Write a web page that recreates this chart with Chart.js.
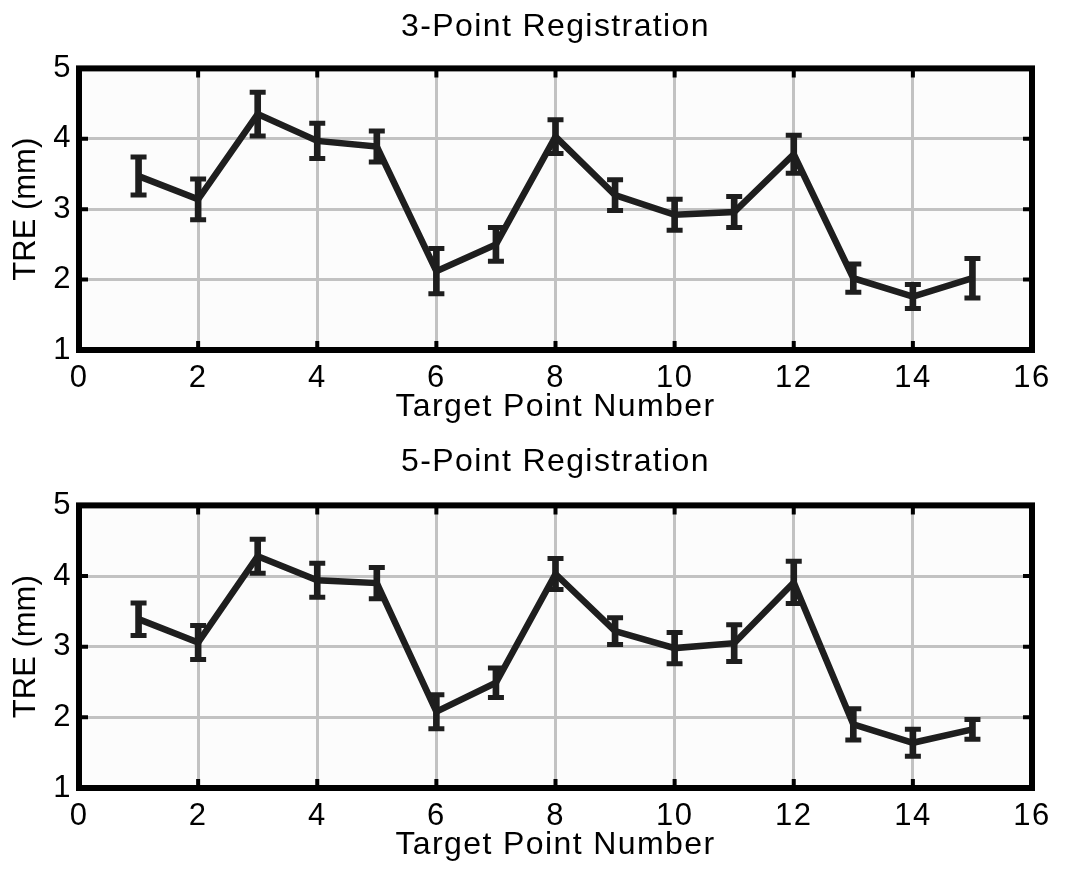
<!DOCTYPE html>
<html>
<head>
<meta charset="utf-8">
<script src="https://cdn.jsdelivr.net/npm/chart.js@4/dist/chart.umd.min.js"></script>
<style>
  html, body { margin: 0; padding: 0; background: #fff; }
  .panel { position: absolute; left: 0; width: 1065px; height: 440px; }
  #top { top: 0; }
  #bottom { top: 440px; }
</style>
</head>
<body>
<div class="panel" id="top"><canvas id="chart3" width="1065" height="440"></canvas></div>
<div class="panel" id="bottom"><canvas id="chart5" width="1065" height="440"></canvas></div>
<script>
// target points on the x axis
const targetPoints = [1, 2, 3, 4, 5, 6, 7, 8, 9, 10, 11, 12, 13, 14, 15];

// 3-point registration: mean TRE and error (mm)
const tre3 = [3.47, 3.14, 4.35, 3.97, 3.89, 2.12, 2.50, 4.03, 3.20, 2.92, 2.96, 3.78, 2.02, 1.76, 2.02];
const err3 = [0.27, 0.29, 0.31, 0.25, 0.22, 0.32, 0.24, 0.24, 0.22, 0.22, 0.22, 0.27, 0.20, 0.17, 0.28];

// 5-point registration
const tre5 = [3.39, 3.06, 4.28, 3.94, 3.90, 2.08, 2.49, 4.03, 3.22, 2.98, 3.05, 3.91, 1.90, 1.64, 1.83];
const err5 = [0.23, 0.24, 0.24, 0.24, 0.22, 0.24, 0.21, 0.22, 0.19, 0.22, 0.26, 0.30, 0.22, 0.19, 0.14];

// tick labels
const xTickValues = [0, 2, 4, 6, 8, 10, 12, 14, 16];
const yTickValues = [1, 2, 3, 4, 5];

const ink = '#1e1e1e';
const fontFamily = '"Liberation Sans", Arial, Helvetica, sans-serif';

// plot frame with inward tick marks, like the matlab box
const framePlugin = {
    id: 'frame',
    beforeDraw(chart) {
        const { ctx, chartArea: a } = chart;
        ctx.save();
        ctx.fillStyle = '#fcfcfc';
        ctx.fillRect(a.left, a.top, a.width, a.height);
        ctx.restore();
        // the original lettering is a bit wider than Liberation Sans
        ctx.letterSpacing = '1.4px';
    },
    afterDraw(chart) {
        const { ctx, chartArea: a, scales: { x, y } } = chart;
        ctx.save();
        ctx.strokeStyle = '#000';
        ctx.lineWidth = 6;
        ctx.strokeRect(a.left, a.top, a.width, a.height);
        ctx.lineWidth = 4;
        ctx.beginPath();
        x.ticks.forEach(t => {
            const px = x.getPixelForValue(t.value);
            ctx.moveTo(px, a.top);
            ctx.lineTo(px, a.top + 9);
            ctx.moveTo(px, a.bottom);
            ctx.lineTo(px, a.bottom - 9);
        });
        y.ticks.forEach(t => {
            const py = y.getPixelForValue(t.value);
            ctx.moveTo(a.left, py);
            ctx.lineTo(a.left + 9, py);
            ctx.moveTo(a.right, py);
            ctx.lineTo(a.right - 9, py);
        });
        ctx.stroke();
        ctx.restore();
        ctx.letterSpacing = '0px';
    }
};

// y title keeps normal spacing
function plainTitle(scale) {
    if (scale._plainTitle) return;
    scale._plainTitle = true;
    const orig = scale.drawTitle.bind(scale);
    scale.drawTitle = function () {
        const prev = this.ctx.letterSpacing;
        this.ctx.letterSpacing = '0px';
        orig();
        this.ctx.letterSpacing = prev;
    };
}

function makeChart(canvasId, title, means, errs, lay) {
    const linePoints = targetPoints.map((p, i) => ({ x: p, y: means[i] }));
    const errBars = targetPoints.map((p, i) => ({ x: p, y: [means[i] - errs[i], means[i] + errs[i]] }));
    const caps = [];
    targetPoints.forEach((p, i) => {
        caps.push({ x: p, y: means[i] + errs[i] });
        caps.push({ x: p, y: means[i] - errs[i] });
    });

    return new Chart(document.getElementById(canvasId), {
        type: 'line',
        data: {
            datasets: [
                {
                    type: 'line',
                    data: linePoints,
                    borderColor: ink,
                    borderWidth: 6.5,
                    pointRadius: 0,
                    tension: 0,
                    order: 1
                },
                {
                    type: 'bar',
                    data: errBars,
                    backgroundColor: ink,
                    borderWidth: 0,
                    barThickness: 6,
                    order: 2
                },
                {
                    type: 'scatter',
                    data: caps,
                    showLine: false,
                    pointStyle: 'line',
                    pointRadius: 8,
                    pointBorderWidth: 5,
                    pointBorderColor: ink,
                    pointBackgroundColor: ink,
                    order: 3
                }
            ]
        },
        options: {
            responsive: false,
            animation: false,
            events: [],
            layout: { padding: { left: 0, right: 33, top: 0, bottom: 0 } },
            plugins: {
                legend: { display: false },
                tooltip: { enabled: false },
                title: {
                    display: true,
                    fullSize: false,
                    text: title,
                    color: '#000',
                    font: { family: fontFamily, size: 32, weight: 'normal' },
                    padding: { top: lay.titleTop, bottom: lay.titleBottom }
                }
            },
            scales: {
                x: {
                    type: 'linear',
                    min: 0,
                    max: 16,
                    offset: false,
                    afterBuildTicks: s => { s.ticks = xTickValues.map(v => ({ value: v })); },
                    afterFit: s => { s.height = lay.xHeight; },
                    grid: { color: '#c2c2c2', lineWidth: 3, drawTicks: false, offset: false },
                    border: { display: false },
                    ticks: {
                        color: '#000',
                        padding: lay.xTickPad,
                        maxRotation: 0,
                        font: { family: fontFamily, size: 31 }
                    },
                    title: {
                        display: true,
                        text: 'Target Point Number',
                        color: '#000',
                        font: { family: fontFamily, size: 32 },
                        padding: { top: 0, bottom: lay.xTitlePad }
                    }
                },
                y: {
                    type: 'linear',
                    min: 1,
                    max: 5,
                    afterBuildTicks: s => { s.ticks = yTickValues.map(v => ({ value: v })); },
                    afterFit: s => { s.width = 79; plainTitle(s); },
                    grid: { color: '#c2c2c2', lineWidth: 3, drawTicks: false },
                    border: { display: false },
                    ticks: {
                        color: '#000',
                        padding: 7,
                        font: { family: fontFamily, size: 31 }
                    },
                    title: {
                        display: true,
                        text: 'TRE (mm)',
                        color: '#000',
                        font: { family: fontFamily, size: 31 },
                        padding: { top: 8, bottom: 0 }
                    }
                }
            }
        },
        plugins: [framePlugin]
    });
}

makeChart('chart3', '3-Point Registration', tre3, err3,
    { titleTop: 8, titleBottom: 22, xHeight: 90, xTickPad: 10, xTitlePad: 14 });
makeChart('chart5', '5-Point Registration', tre5, err5,
    { titleTop: 3, titleBottom: 24, xHeight: 92, xTickPad: 10, xTitlePad: 16 });
</script>
</body>
</html>
